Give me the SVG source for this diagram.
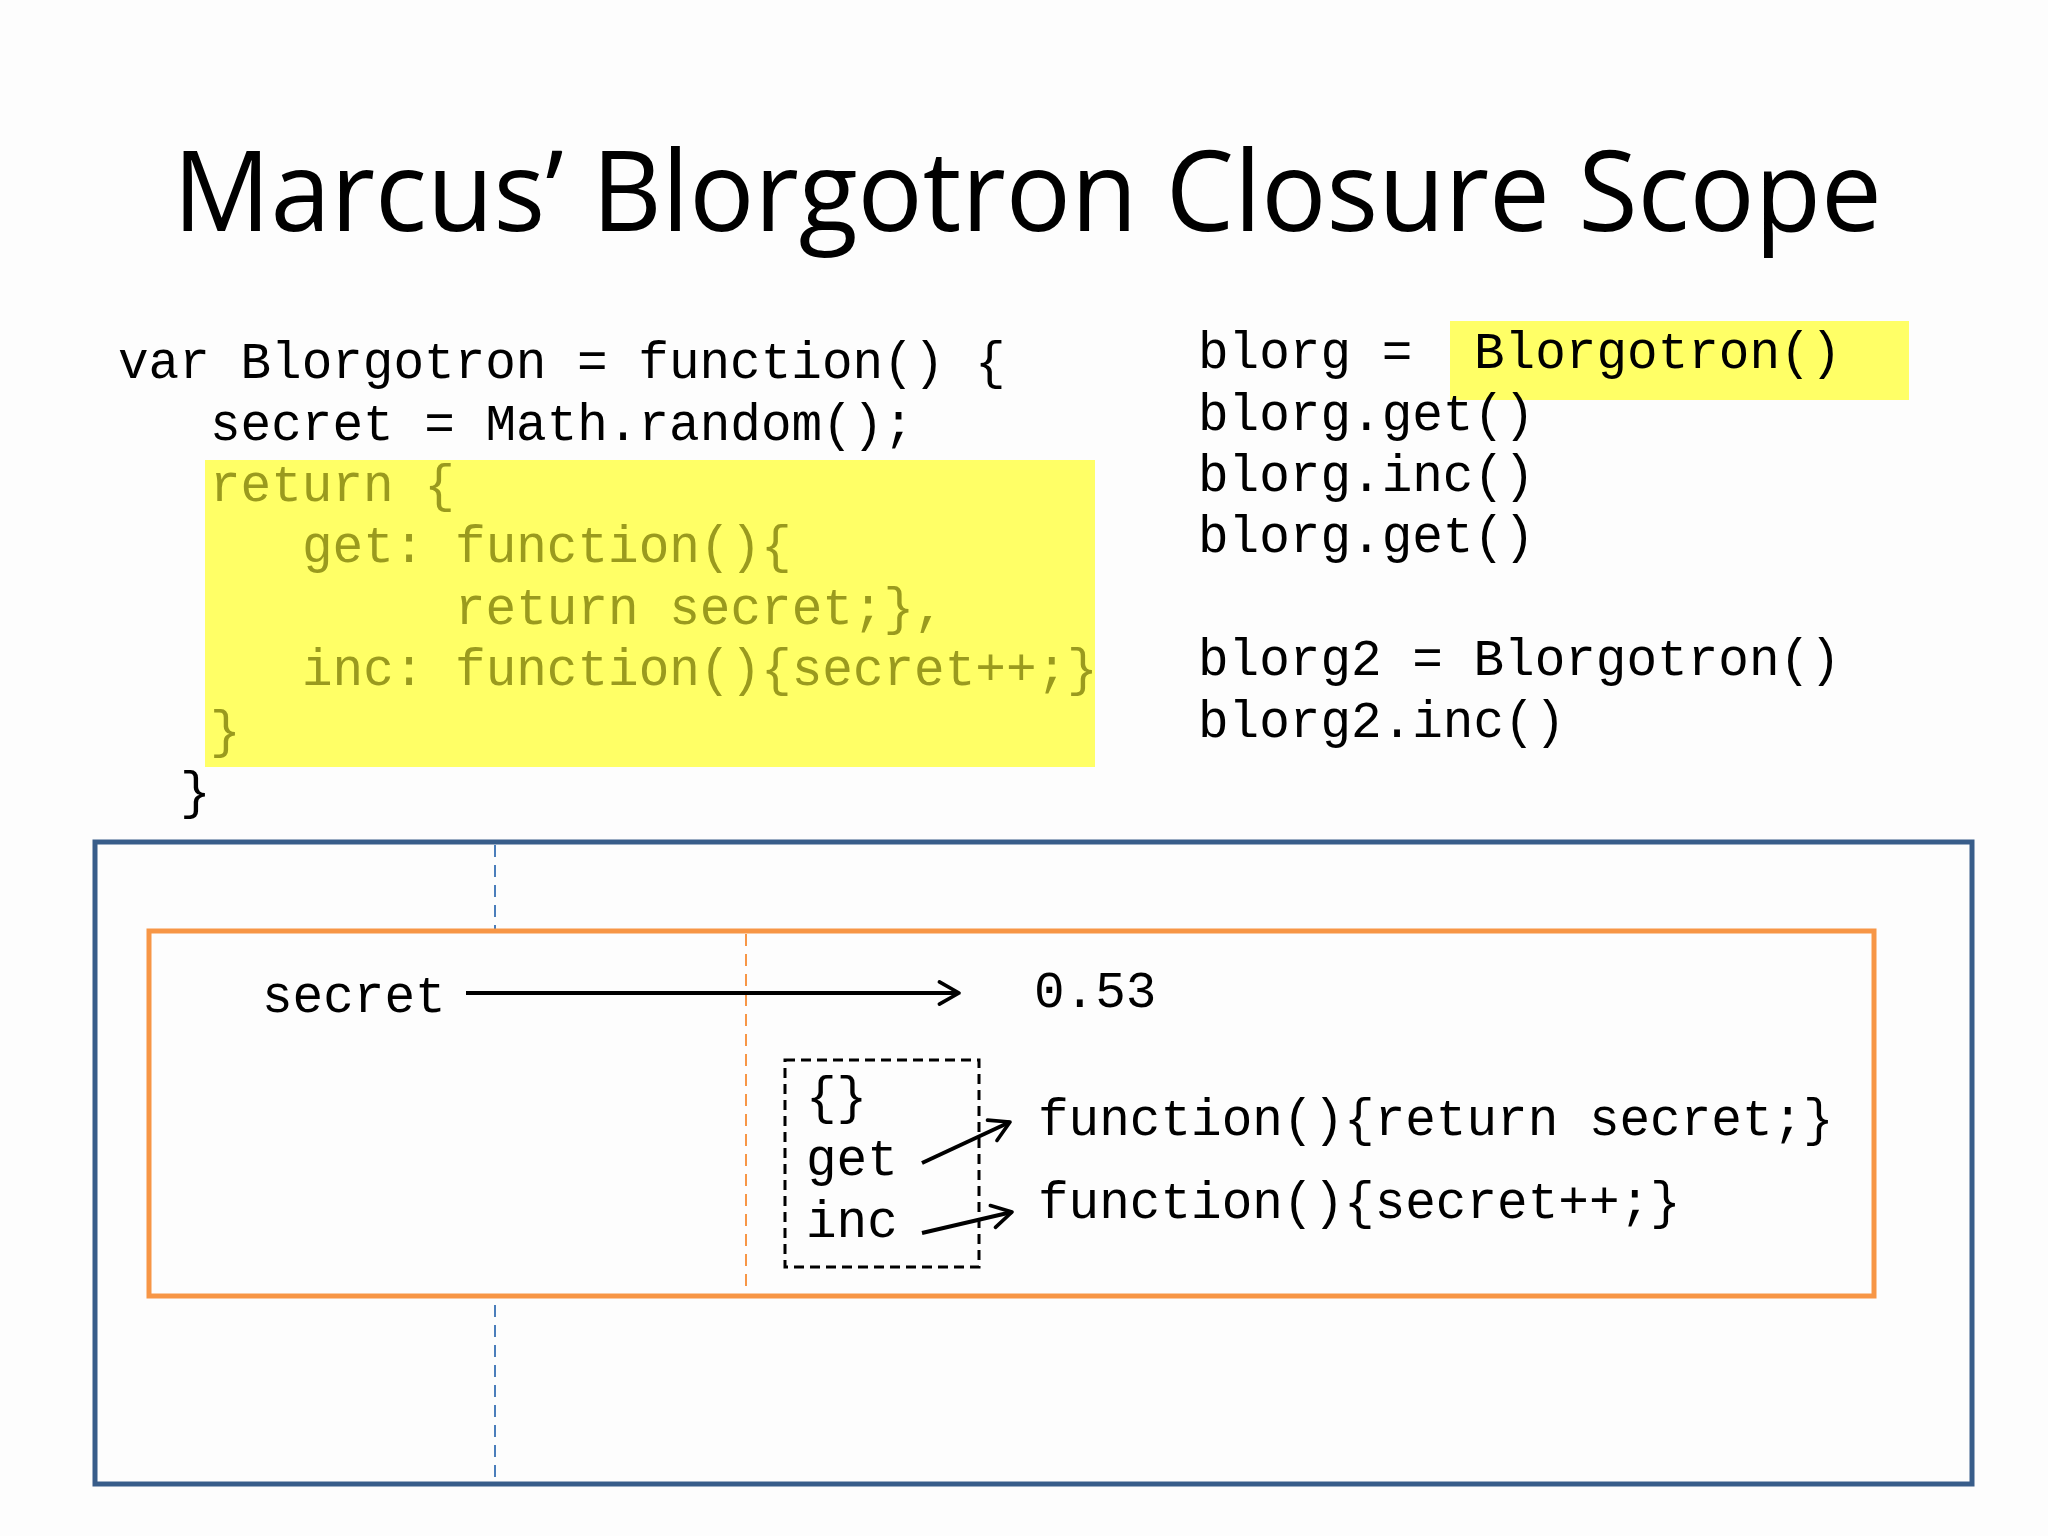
<svg xmlns="http://www.w3.org/2000/svg" width="2048" height="1536" viewBox="0 0 2048 1536">
<style>
.code{font-family:"Liberation Mono","Courier New",monospace;font-size:51px;fill:#000;white-space:pre}
.hl{fill:#9a9a1e}
.title{font-family:"Open Sans","Liberation Sans",sans-serif;font-size:112px;fill:#000}
.conn{stroke:#000;stroke-width:4;fill:none;marker-end:url(#arr)}
</style>
<defs>
<marker id="arr" viewBox="0 0 20 20" refX="18" refY="10" markerWidth="7" markerHeight="7" markerUnits="strokeWidth" orient="auto">
<path d="M4,2 L18,10 L4,18" fill="none" stroke="#000" stroke-width="2.6" stroke-linecap="round" stroke-linejoin="round"/>
</marker>
</defs>
<rect width="2048" height="1536" fill="#fdfdfd"/>
<g id="title">
<text class="title" x="173" y="231" textLength="1709" lengthAdjust="spacingAndGlyphs">Marcus’ Blorgotron Closure Scope</text>
</g>
<g id="code-left">
<rect x="205" y="460" width="890" height="307" fill="#ffff66"/>
<text class="code" x="118" y="378">var Blorgotron = function() {</text>
<text class="code" x="210" y="440">secret = Math.random();</text>
<text class="code hl" x="210" y="501">return {</text>
<text class="code hl" x="302" y="562">get: function(){</text>
<text class="code hl" x="455" y="624">return secret;},</text>
<text class="code hl" x="302" y="685">inc: function(){secret++;}</text>
<text class="code hl" x="210" y="747">}</text>
<text class="code" x="180" y="808">}</text>
</g>
<g id="code-right">
<rect x="1450" y="321" width="459" height="79" fill="#ffff66"/>
<text class="code" x="1198" y="368">blorg =</text>
<text class="code" x="1474" y="368">Blorgotron()</text>
<text class="code" x="1198" y="430">blorg.get()</text>
<text class="code" x="1198" y="491">blorg.inc()</text>
<text class="code" x="1198" y="552">blorg.get()</text>
<text class="code" x="1198" y="675">blorg2 = Blorgotron()</text>
<text class="code" x="1198" y="737">blorg2.inc()</text>
</g>
<g id="global-scope">
<rect x="95" y="842" width="1877" height="642" fill="#fdfdfd" stroke="#385d8a" stroke-width="5"/>
<line x1="495" y1="845" x2="495" y2="1482" stroke="#4a7ebb" stroke-width="2" stroke-dasharray="12,8"/>
</g>
<g id="closure-scope">
<rect x="149" y="931" width="1725" height="365" fill="#fdfdfd" stroke="#f79646" stroke-width="5"/>
<line x1="746" y1="934" x2="746" y2="1294" stroke="#f79646" stroke-width="2" stroke-dasharray="12,8"/>
</g>
<g id="secret">
<text class="code" x="262" y="1012">secret</text>
</g>
<g id="value">
<text class="code" x="1034" y="1007">0.53</text>
</g>
<g id="object">
<rect x="785" y="1060" width="194" height="207" fill="none" stroke="#000" stroke-width="3" stroke-dasharray="10,6"/>
<text class="code" x="806" y="1113">{}</text>
<text class="code" x="806" y="1175">get</text>
<text class="code" x="806" y="1237">inc</text>
</g>
<g id="fn-get">
<text class="code" x="1038" y="1135">function(){return secret;}</text>
</g>
<g id="fn-inc">
<text class="code" x="1038" y="1218">function(){secret++;}</text>
</g>
<g id="connectors">
<line class="conn" x1="466" y1="993" x2="959" y2="993"/>
<line class="conn" x1="922" y1="1163" x2="1010" y2="1122"/>
<line class="conn" x1="922" y1="1233" x2="1012" y2="1212"/>
</g>
</svg>
